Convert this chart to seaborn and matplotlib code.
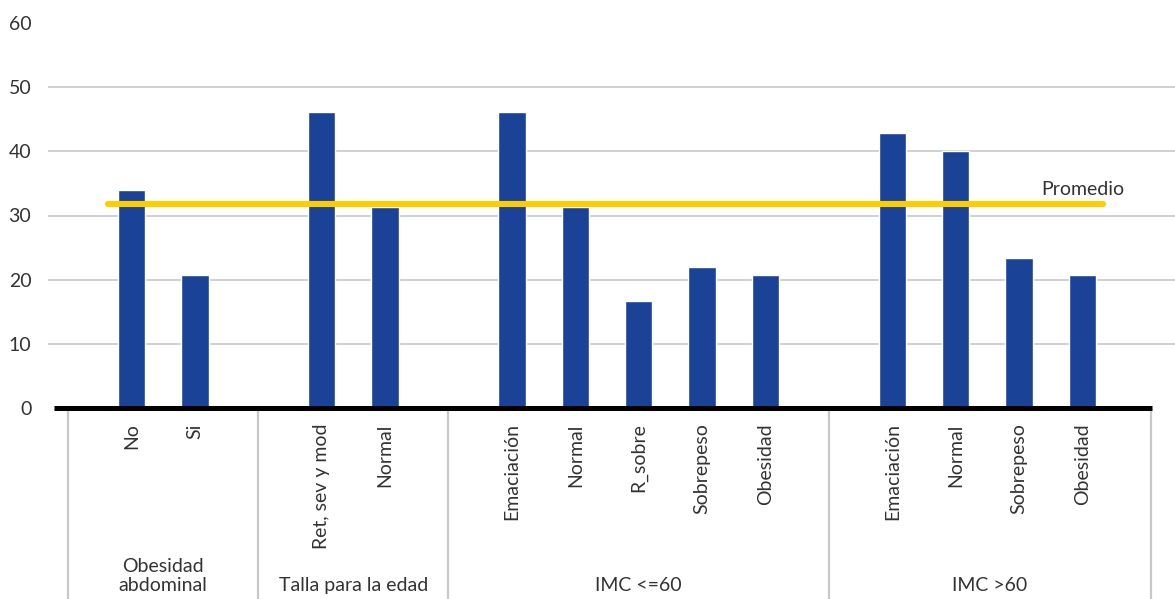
import matplotlib
matplotlib.use('Agg')
import matplotlib.pyplot as plt
import seaborn as sns
import pandas as pd
import numpy as np

# data
grupos = ['Obesidad\nabdominal', 'Talla para la edad', 'IMC <=60', 'IMC >60']
categorias = [
    ['No', 'Si'],
    ['Ret, sev y mod', 'Normal'],
    ['Emaciación', 'Normal', 'R_sobre', 'Sobrepeso', 'Obesidad'],
    ['Emaciación', 'Normal', 'Sobrepeso', 'Obesidad'],
]
valores = [
    [34.0, 20.8],
    [46.1, 31.4],
    [46.1, 31.4, 16.6, 21.9, 20.8],
    [42.9, 40.0, 23.3, 20.8],
]
promedio = 31.8
yticks = [0, 10, 20, 30, 40, 50, 60]

# build positions: one empty slot between groups
rows = []
bounds = []
pos = 0
for g, (cats, vals) in enumerate(zip(categorias, valores)):
    if g == 0:
        bounds.append(pos - 1)
    for c, v in zip(cats, vals):
        rows.append({'pos': pos, 'cat': c, 'valor': v, 'grupo': grupos[g]})
        pos += 1
    bounds.append(pos)
    pos += 1
bounds[-1] += 0.08
df = pd.DataFrame(rows)

sns.set_style('white')
plt.rcParams['font.family'] = ['Lato', 'DejaVu Sans']
txt = '#333333'

fig = plt.figure(figsize=(11.75, 5.99), dpi=100)
ax = fig.add_axes([48 / 1175, 1 - 408 / 599, 1 - 48 / 1175, (408 - 23) / 599])

sns.barplot(data=df, x='pos', y='valor', native_scale=True, width=0.43,
            color='#1a4397', saturation=1, ax=ax, zorder=2)

ax.set_xlim(-1.317, 16.46)
ax.set_ylim(0, 60)

for t in yticks[1:-1]:
    ax.axhline(t, color='#d0d0d0', lw=1.4, zorder=1)

# zero line
ax.plot([bounds[0] - 0.22, bounds[-1] + 0.02], [0, 0], color='black', lw=3.6,
        solid_capstyle='butt', zorder=4, clip_on=False)

# promedio line
px = df['pos'].to_numpy()
ax.plot([px[0] - 0.37, px[-1] + 0.32], [promedio, promedio], color='#ffcc00',
        lw=4.4, solid_capstyle='round', zorder=5)
ax.text(px[-1], promedio + 2.3, 'Promedio', ha='center', va='center',
        fontsize=14, color=txt)

ax.set_yticks(yticks)
ax.set_yticklabels([str(t) for t in yticks], fontsize=14, color=txt)
ax.set_xticks(df['pos'])
ax.set_xticklabels(df['cat'], rotation=90, fontsize=14, color=txt, va='top')
ax.tick_params(axis='x', length=0, pad=11)
ax.tick_params(axis='y', length=0, pad=12)
ax.set_xlabel('')
ax.set_ylabel('')
for s in ax.spines.values():
    s.set_visible(False)

# group separators and labels
ax.vlines(bounds, -32, 0, color='#c8c8c8', lw=1.6, clip_on=False, zorder=3)
for g in range(len(grupos)):
    xc = (bounds[g] + bounds[g + 1]) / 2
    yc = -26.2 if '\n' in grupos[g] else -27.6
    ax.text(xc, yc, grupos[g], ha='center', va='center',
            fontsize=14, color=txt, clip_on=False, linespacing=1.1)

fig.savefig('out.png', dpi=100)
